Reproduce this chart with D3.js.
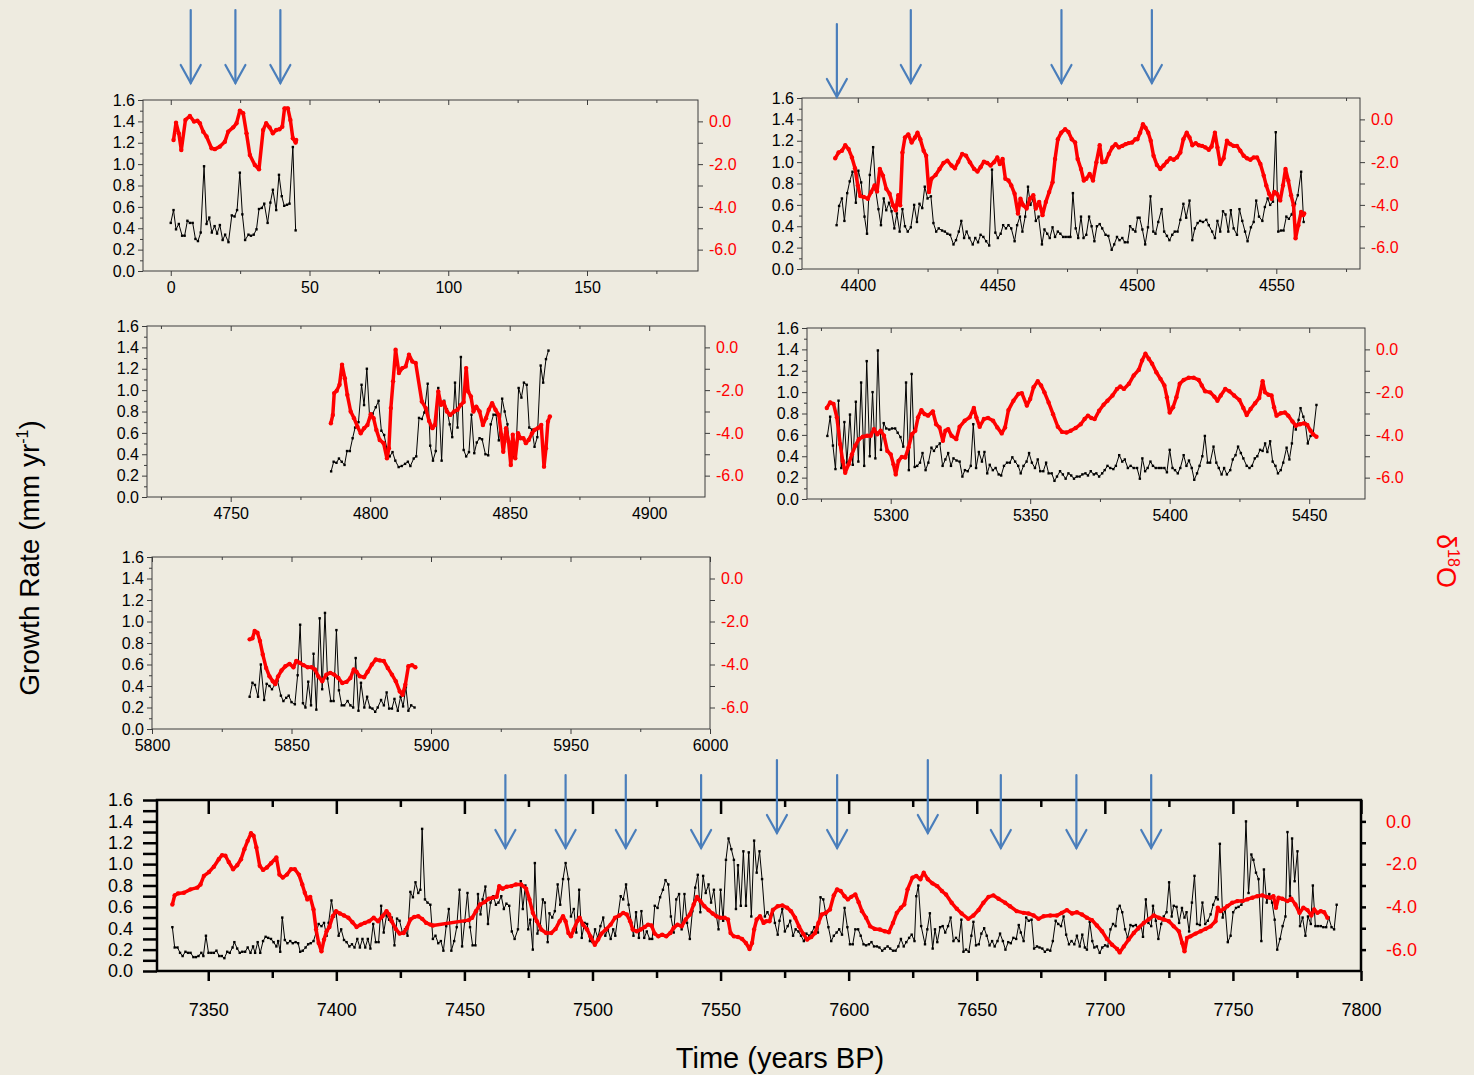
<!DOCTYPE html>
<html>
<head>
<meta charset="utf-8">
<script src="https://cdn.jsdelivr.net/npm/d3@7"></script>
<style>
	body { margin: 0; background: #eeebe0; }
	svg { display: block; }
	text { font-family: "Liberation Sans", Arial, sans-serif; }
</style>
</head>
<body>
<svg id="chart" width="1474" height="1075"></svg>
<script>

// ---- data: [year, growth rate mm/yr] and [year, d18O] per panel ----

let growth1 = [[0,0.45],[1,0.57],[1.9,0.39],[2.9,0.44],[4.1,0.33],[5,0.33],[6,0.47],[6.9,0.45],[7.9,0.45],[8.9,0.30],[9.8,0.28],[10.8,0.36],[12,0.98],[12.9,0.44],[13.9,0.50],[14.8,0.36],[15.8,0.42],[16.7,0.35],[17.7,0.43],[18.7,0.29],[19.6,0.34],[20.8,0.27],[22,0.52],[23,0.51],[23.9,0.57],[24.9,0.92],[25.8,0.53],[26.8,0.29],[28,0.34],[28.9,0.33],[29.9,0.34],[30.9,0.39],[31.8,0.58],[32.8,0.59],[33.7,0.63],[34.9,0.45],[35.9,0.64],[36.8,0.76],[38,0.57],[39,0.90],[40,0.70],[40.9,0.61],[41.9,0.62],[42.8,0.63],[44,1.16],[45,0.38]];

let iso1 = [[1,-0.87],[1.9,-0.06],[2.9,-0.56],[3.8,-1.34],[5.3,0.07],[6.9,0.25],[8.4,-0.01],[9.6,0.03],[10.5,-0.09],[11.7,-0.48],[12.9,-0.71],[14.7,-1.26],[15.9,-1.30],[17.7,-1.18],[19.5,-0.95],[20.7,-0.48],[22.5,-0.28],[23.7,-0.09],[24.9,0.50],[26.1,0.38],[27.3,-0.56],[28.5,-1.57],[30.3,-2.04],[31.8,-2.24],[33.3,-0.40],[34.4,-0.09],[35.6,-0.28],[36.8,-0.56],[38,-0.40],[39.2,-0.37],[40.2,-0.25],[41,0.61],[42.2,0.61],[43.1,0.07],[44,-0.79],[45,-0.99],[45.2,-0.87]];

let growth2 = [[4392.4,0.41],[4393.3,0.59],[4394.3,0.66],[4395.2,0.45],[4396.2,0.71],[4397.1,0.82],[4398.1,0.91],[4399.3,0.62],[4400.2,0.92],[4401.2,0.81],[4402.4,0.49],[4403.3,0.33],[4404.3,0.88],[4405.5,1.14],[4406.4,0.74],[4407.4,0.56],[4408.3,0.41],[4409.3,0.66],[4410.2,0.55],[4411.2,0.62],[4412.1,0.54],[4413.1,0.38],[4414,0.52],[4415,0.35],[4416,0.56],[4416.9,0.40],[4417.9,0.35],[4419,0.39],[4420.2,0.60],[4421.2,0.44],[4422.1,0.61],[4423.1,0.57],[4424,0.77],[4425,0.66],[4426.2,0.68],[4427.1,0.43],[4428.1,0.35],[4429,0.38],[4430.2,0.36],[4431.2,0.35],[4432.1,0.33],[4433.1,0.32],[4434.3,0.23],[4435.2,0.27],[4436.2,0.35],[4437.1,0.45],[4438.1,0.29],[4439,0.35],[4440,0.29],[4441.2,0.23],[4442.1,0.29],[4443.1,0.25],[4444,0.32],[4445,0.30],[4446,0.26],[4447.1,0.22],[4448.1,0.93],[4449.3,0.34],[4450.2,0.29],[4451.2,0.33],[4452.1,0.41],[4453.1,0.38],[4454,0.41],[4455,0.38],[4456.2,0.26],[4457.1,0.41],[4458.1,0.49],[4459,0.35],[4460,0.49],[4461,0.77],[4461.9,0.60],[4462.9,0.65],[4463.8,0.45],[4464.8,0.49],[4466,0.23],[4466.9,0.37],[4467.9,0.33],[4468.8,0.29],[4469.8,0.39],[4470.7,0.30],[4471.7,0.35],[4472.6,0.33],[4473.6,0.30],[4474.5,0.30],[4475.5,0.30],[4476.2,0.30],[4477.1,0.71],[4478.1,0.38],[4479,0.29],[4480,0.49],[4480.9,0.29],[4481.9,0.32],[4482.9,0.49],[4483.8,0.40],[4484.8,0.26],[4485.7,0.40],[4486.7,0.42],[4487.6,0.38],[4488.8,0.32],[4489.8,0.31],[4491,0.18],[4491.9,0.23],[4492.9,0.30],[4493.8,0.27],[4494.8,0.29],[4495.7,0.25],[4496.7,0.25],[4497.6,0.40],[4498.6,0.37],[4499.5,0.35],[4500.3,0.48],[4501,0.48],[4502,0.37],[4503,0.23],[4504,0.39],[4504.9,0.68],[4505.9,0.35],[4506.7,0.33],[4507.7,0.44],[4508.9,0.56],[4509.8,0.35],[4510.8,0.31],[4511.7,0.27],[4512.7,0.32],[4513.6,0.35],[4514.6,0.35],[4515.6,0.46],[4516.7,0.61],[4517.7,0.48],[4518.9,0.64],[4519.9,0.27],[4520.8,0.38],[4521.8,0.43],[4522.7,0.45],[4523.7,0.44],[4524.9,0.46],[4525.8,0.41],[4527,0.35],[4528,0.29],[4528.9,0.45],[4529.9,0.35],[4530.9,0.54],[4531.8,0.51],[4532.8,0.35],[4533.7,0.55],[4534.7,0.38],[4535.9,0.32],[4536.8,0.56],[4537.8,0.45],[4538.8,0.35],[4539.7,0.26],[4540.9,0.39],[4541.9,0.44],[4542.8,0.64],[4543.8,0.49],[4545,0.45],[4545.9,0.58],[4546.9,0.66],[4547.8,0.60],[4548.8,0.63],[4549.8,1.28],[4550.7,0.35],[4551.7,0.36],[4552.6,0.36],[4553.6,0.49],[4554.5,0.47],[4555.5,0.51],[4556.7,0.61],[4557.7,0.69],[4558.9,0.91],[4559.8,0.44]];

let iso2 = [[4391.9,-1.82],[4393.1,-1.55],[4394.3,-1.47],[4395.5,-1.21],[4396.7,-1.39],[4397.9,-1.78],[4399,-2.29],[4400,-3.09],[4400.9,-3.59],[4402.1,-3.63],[4403.6,-3.71],[4404.8,-3.40],[4406,-3.09],[4406.9,-3.37],[4407.9,-2.32],[4409,-2.63],[4410.2,-3.25],[4411.4,-3.48],[4412.6,-4.02],[4413.6,-4.25],[4414.5,-3.55],[4415.2,-4.02],[4416,-1.55],[4416.9,-0.85],[4418.1,-0.70],[4419.3,-1.08],[4420.5,-0.85],[4421.4,-0.62],[4422.4,-0.93],[4423.6,-1.47],[4424.5,-1.70],[4425.5,-3.40],[4426.4,-2.78],[4427.9,-2.60],[4429.3,-2.32],[4430.7,-2.04],[4432.1,-1.93],[4433.6,-2.16],[4434.8,-2.29],[4436,-1.98],[4437.4,-1.62],[4438.8,-1.70],[4440.2,-2.01],[4441.7,-2.32],[4442.9,-2.44],[4444,-2.24],[4445.2,-1.98],[4446.4,-2.04],[4447.6,-2.16],[4448.8,-2.01],[4450,-1.78],[4450.9,-2.09],[4451.9,-1.85],[4452.9,-2.78],[4454,-2.86],[4455,-3.09],[4456.2,-3.48],[4457.4,-4.40],[4458.3,-3.71],[4459.3,-4.02],[4460.5,-4.17],[4461.7,-3.71],[4462.9,-3.55],[4463.8,-4.17],[4465,-3.86],[4466.2,-4.48],[4467.4,-3.86],[4468.6,-3.40],[4469.8,-2.94],[4470.7,-1.85],[4471.7,-0.93],[4472.9,-0.62],[4474.3,-0.46],[4475.5,-0.59],[4476.7,-0.93],[4477.9,-1.08],[4478.8,-1.85],[4480,-2.32],[4481,-2.86],[4481.9,-2.78],[4483.1,-2.55],[4484.3,-2.86],[4485.5,-2.01],[4486.7,-1.21],[4487.6,-2.01],[4488.8,-1.98],[4490,-1.62],[4491.2,-1.31],[4492.4,-1.16],[4493.6,-1.31],[4494.8,-1.24],[4496,-1.16],[4497.1,-1.11],[4498.3,-1.08],[4499.5,-0.93],[4500.2,-0.93],[4501.2,-0.62],[4502.2,-0.23],[4503.1,-0.39],[4504.1,-0.62],[4505,-1.00],[4506,-1.70],[4507.2,-2.13],[4508.4,-2.32],[4509.6,-2.16],[4510.8,-1.98],[4512,-1.82],[4513.2,-1.89],[4514.4,-1.78],[4515.6,-1.55],[4516.7,-0.93],[4517.9,-0.62],[4518.9,-0.85],[4519.9,-1.21],[4521.1,-1.11],[4522.2,-1.21],[4523.4,-1.24],[4524.6,-1.31],[4525.8,-1.42],[4526.8,-1.27],[4528,-0.62],[4528.9,-1.31],[4529.9,-2.09],[4531.1,-1.82],[4532.3,-1.00],[4533.5,-1.16],[4534.7,-1.24],[4535.9,-1.24],[4537.1,-1.47],[4538.3,-1.70],[4539.5,-1.82],[4540.7,-1.89],[4541.9,-1.78],[4543.1,-1.78],[4544.3,-2.09],[4545.5,-2.63],[4546.4,-3.09],[4547.4,-3.48],[4548.3,-3.71],[4549.3,-3.40],[4550.2,-3.48],[4551.4,-3.79],[4552.4,-3.09],[4553.3,-2.32],[4554.3,-2.86],[4555.3,-3.55],[4556.2,-4.02],[4556.9,-5.56],[4557.9,-4.95],[4558.9,-4.33],[4559.6,-4.48],[4560,-4.40]];

let growth3 = [[4786,0.24],[4786.9,0.33],[4787.9,0.32],[4788.8,0.36],[4789.8,0.33],[4790.8,0.30],[4791.7,0.43],[4792.7,0.43],[4793.7,0.55],[4794.6,0.65],[4795.8,0.70],[4796.9,1.05],[4797.8,0.86],[4798.8,1.20],[4799.8,0.74],[4800.9,0.78],[4802,0.84],[4803,0.90],[4804,0.62],[4805,0.58],[4806,0.45],[4807,0.38],[4808,0.42],[4809,0.34],[4810.2,0.28],[4811.3,0.29],[4812.5,0.31],[4813.5,0.33],[4814.4,0.29],[4815.6,0.36],[4816.5,0.38],[4817.5,0.74],[4818.5,0.73],[4819.4,0.79],[4820.6,1.06],[4821.5,0.48],[4822.5,0.34],[4823.5,0.43],[4824.4,1.02],[4825.6,0.34],[4826.5,0.90],[4827.5,0.82],[4828.5,0.68],[4829.4,0.56],[4830.4,1.07],[4831.3,0.65],[4832.5,1.31],[4833.5,0.44],[4834.4,0.38],[4835.4,0.42],[4836.3,0.77],[4837.3,0.41],[4838.2,0.51],[4839.2,0.55],[4840.1,0.54],[4841.3,0.40],[4842.3,0.39],[4843.2,0.68],[4844.2,0.77],[4845.1,0.77],[4846.1,0.53],[4847.3,0.92],[4848.2,0.80],[4849.2,0.68],[4850.1,0.43],[4851.3,0.37],[4852.3,0.46],[4853.2,1.02],[4854.2,0.93],[4855.1,1.07],[4856.1,1.05],[4857,0.65],[4858,0.63],[4858.9,0.47],[4859.9,0.56],[4861.1,1.23],[4862,1.07],[4863,1.29],[4863.9,1.37]];

let iso3 = [[4785.9,-3.55],[4786.6,-3.16],[4787.1,-2.14],[4788,-2.03],[4789,-1.75],[4789.9,-0.81],[4790.9,-1.44],[4791.8,-2.22],[4793,-3.00],[4794.2,-3.31],[4795.4,-3.70],[4796.6,-4.02],[4797.8,-3.78],[4799,-3.63],[4800.2,-3.13],[4801.2,-3.31],[4802.2,-3.86],[4803.4,-4.33],[4804.8,-4.48],[4806,-5.19],[4806.7,-4.72],[4807.4,-2.84],[4808.2,-1.59],[4809.1,-0.11],[4810.3,-1.20],[4811.5,-0.97],[4812.7,-0.89],[4813.9,-0.34],[4815.1,-0.66],[4816.3,-0.73],[4818.5,-2.53],[4819.9,-2.84],[4821.1,-3.44],[4822.3,-3.78],[4823.2,-3.63],[4824.4,-2.06],[4825.4,-2.69],[4826.3,-2.56],[4827.5,-3.00],[4828.7,-3.16],[4830.1,-3.00],[4831.3,-2.92],[4832.5,-2.69],[4833.5,-2.56],[4834.4,-0.97],[4835.1,-2.06],[4836.1,-2.30],[4837,-3.00],[4838,-2.77],[4839.2,-3.00],[4840.4,-3.63],[4841.5,-3.31],[4842.5,-2.92],[4843.7,-2.61],[4844.9,-2.92],[4846.1,-3.16],[4847,-4.09],[4847.7,-4.88],[4848.7,-3.78],[4849.6,-4.41],[4850.4,-5.50],[4851.1,-4.09],[4852,-5.19],[4853,-4.02],[4853.9,-4.25],[4854.9,-4.25],[4855.8,-4.48],[4856.8,-4.33],[4858,-4.02],[4858.9,-3.86],[4860.1,-3.78],[4861.3,-3.63],[4862.3,-5.58],[4863,-4.72],[4863.7,-3.47],[4864.4,-3.23]];

let growth4 = [[5277.3,0.59],[5278.3,0.77],[5279.3,0.50],[5280.2,0.28],[5281.3,0.92],[5282.3,0.29],[5283.4,0.72],[5284.3,0.34],[5285.4,0.79],[5286.4,0.32],[5287.5,0.91],[5288.4,0.35],[5289.4,1.09],[5290.5,0.31],[5291.4,1.29],[5292.5,0.40],[5293.5,1.00],[5294.5,0.38],[5295.4,1.39],[5296.5,0.46],[5297.5,0.71],[5298.4,0.66],[5299.5,0.65],[5300.5,0.66],[5301.6,0.66],[5302.5,0.62],[5303.5,0.58],[5304.5,0.49],[5305.5,1.09],[5306.5,0.27],[5307.5,1.17],[5308.6,0.30],[5309.5,0.31],[5310.5,0.34],[5311.4,0.43],[5312.5,0.27],[5313.5,0.34],[5314.6,0.48],[5315.5,0.45],[5316.5,0.49],[5317.6,0.52],[5318.6,0.31],[5319.6,0.37],[5320.6,0.43],[5321.6,0.31],[5322.5,0.38],[5323.6,0.36],[5324.7,0.35],[5325.7,0.21],[5326.6,0.27],[5327.6,0.26],[5328.7,0.31],[5329.6,0.70],[5330.6,0.29],[5331.6,0.44],[5332.7,0.35],[5333.6,0.44],[5334.6,0.24],[5335.5,0.32],[5336.6,0.27],[5337.6,0.29],[5338.7,0.23],[5339.6,0.22],[5340.6,0.31],[5341.7,0.34],[5342.7,0.34],[5343.6,0.39],[5344.6,0.35],[5345.7,0.31],[5346.6,0.24],[5347.6,0.31],[5348.7,0.35],[5349.6,0.43],[5350.6,0.34],[5351.7,0.29],[5352.7,0.37],[5353.6,0.26],[5354.7,0.26],[5355.7,0.34],[5356.6,0.24],[5357.7,0.24],[5358.7,0.17],[5359.6,0.21],[5360.7,0.26],[5361.7,0.23],[5362.7,0.19],[5363.7,0.24],[5364.7,0.22],[5365.7,0.19],[5366.7,0.21],[5367.7,0.21],[5368.7,0.23],[5369.8,0.24],[5370.7,0.22],[5371.7,0.26],[5372.8,0.23],[5373.7,0.24],[5374.7,0.21],[5375.8,0.24],[5376.7,0.27],[5377.7,0.31],[5378.7,0.29],[5379.8,0.28],[5380.7,0.31],[5381.9,0.41],[5383,0.35],[5383.9,0.37],[5385,0.29],[5386,0.31],[5387.1,0.29],[5388.3,0.29],[5389.3,0.19],[5390.2,0.38],[5391.2,0.26],[5392.1,0.29],[5393.1,0.35],[5394,0.31],[5395,0.29],[5396.1,0.29],[5397,0.29],[5398.1,0.29],[5399,0.25],[5400,0.46],[5401,0.29],[5401.9,0.27],[5402.9,0.24],[5403.8,0.29],[5405,0.41],[5406,0.31],[5406.9,0.36],[5407.9,0.29],[5408.8,0.18],[5409.8,0.24],[5410.7,0.31],[5411.7,0.40],[5412.6,0.59],[5413.6,0.34],[5414.5,0.34],[5415.7,0.49],[5416.7,0.34],[5417.6,0.29],[5418.6,0.23],[5419.5,0.29],[5420.5,0.23],[5421.7,0.27],[5422.6,0.37],[5423.6,0.41],[5424.5,0.49],[5425.5,0.43],[5426.4,0.38],[5427.6,0.31],[5428.6,0.29],[5429.5,0.31],[5430.5,0.38],[5431.4,0.40],[5432.4,0.46],[5433.3,0.45],[5434.2,0.52],[5435,0.44],[5436,0.54],[5436.9,0.35],[5437.9,0.31],[5438.8,0.24],[5439.8,0.27],[5440.7,0.34],[5441.9,0.48],[5442.9,0.37],[5443.8,0.52],[5444.5,0.71],[5445.2,0.65],[5446.2,0.74],[5446.9,0.85],[5447.9,0.77],[5448.6,0.71],[5449.5,0.52],[5450.5,0.59],[5451.4,0.60],[5452.6,0.88]];

let iso4 = [[5277.1,-2.74],[5278.3,-2.48],[5279.5,-2.55],[5280.7,-3.18],[5281.9,-4.44],[5282.8,-5.22],[5283.7,-5.77],[5284.9,-5.38],[5286.1,-4.91],[5287.3,-4.51],[5288.6,-4.20],[5290,-4.09],[5291.6,-4.04],[5292.8,-4.04],[5294,-3.73],[5295.2,-3.97],[5296.4,-3.81],[5297.6,-4.04],[5298.8,-4.75],[5300,-4.91],[5301,-5.38],[5301.8,-5.85],[5302.8,-5.22],[5304,-5.03],[5305.2,-5.06],[5306.4,-4.59],[5307.6,-3.97],[5308.8,-3.81],[5309.8,-3.18],[5311,-2.84],[5312.2,-3.03],[5313.4,-3.10],[5315.1,-2.90],[5316.3,-3.50],[5317.5,-3.65],[5318.7,-4.28],[5319.6,-3.81],[5320.6,-3.73],[5321.8,-4.04],[5323.5,-4.20],[5324.7,-3.62],[5326.5,-3.34],[5328.3,-3.18],[5329.8,-2.74],[5330.7,-3.18],[5331.9,-3.62],[5333.4,-3.26],[5334.9,-3.21],[5336.7,-3.34],[5338.2,-3.65],[5339.8,-3.93],[5341,-3.65],[5342.2,-2.84],[5344,-2.40],[5345.8,-2.08],[5347,-2.05],[5348.8,-2.63],[5350,-2.32],[5351.2,-1.77],[5352.7,-1.49],[5353.9,-1.69],[5355.1,-2.01],[5356.6,-2.48],[5358.2,-3.03],[5359.9,-3.62],[5361.4,-3.86],[5363,-3.89],[5364.5,-3.81],[5366.3,-3.68],[5368.1,-3.50],[5369.5,-3.26],[5370.7,-3.10],[5371.9,-3.21],[5373.1,-3.26],[5374.7,-2.87],[5376.3,-2.59],[5377.7,-2.40],[5379.5,-2.16],[5381.1,-1.85],[5382.3,-1.74],[5383.6,-1.85],[5385.4,-1.61],[5387.1,-1.22],[5388.9,-0.96],[5390.1,-0.52],[5391.3,-0.20],[5392.5,-0.44],[5393.7,-0.67],[5395.2,-1.07],[5396.7,-1.38],[5398.1,-1.69],[5399,-2.24],[5400,-2.95],[5401.2,-2.71],[5402.4,-2.24],[5403.6,-1.61],[5405,-1.43],[5406.8,-1.33],[5408.6,-1.33],[5410.4,-1.43],[5411.5,-1.69],[5412.7,-1.96],[5414.5,-2.01],[5416,-2.21],[5417.1,-2.40],[5418.3,-2.16],[5419.9,-1.85],[5421.4,-1.96],[5423.1,-2.16],[5425,-2.37],[5426.4,-2.74],[5427.6,-3.07],[5429,-2.79],[5430.6,-2.52],[5432.1,-2.27],[5433.3,-1.49],[5434.2,-2.01],[5435.4,-2.12],[5436.5,-2.16],[5437.4,-2.71],[5438.3,-3.10],[5439.8,-2.99],[5441.3,-2.95],[5442.5,-3.10],[5444,-3.37],[5445.2,-3.57],[5446.7,-3.50],[5448.1,-3.46],[5449.3,-3.53],[5450.5,-3.81],[5451.4,-3.97],[5452.6,-4.09]];

let growth5 = [[5835,0.30],[5836,0.43],[5836.9,0.41],[5838,0.30],[5839,0.60],[5840.2,0.27],[5841.1,0.42],[5842.1,0.40],[5843,0.37],[5844,0.41],[5845,0.45],[5846.2,0.31],[5847.1,0.26],[5848.1,0.29],[5849,0.31],[5850,0.25],[5851.2,0.23],[5852.2,0.50],[5853.1,0.97],[5854.1,0.24],[5855,0.20],[5856,0.44],[5857,0.22],[5857.9,0.70],[5858.9,0.18],[5860.1,1.03],[5861,0.37],[5862,1.08],[5862.9,0.47],[5864.1,0.26],[5865.1,0.26],[5866.1,0.92],[5867,0.36],[5868,0.22],[5868.9,0.22],[5870.1,0.26],[5871.1,0.22],[5872.1,0.20],[5873,0.66],[5874,0.17],[5874.9,0.43],[5876.1,0.20],[5877.1,0.30],[5878.1,0.20],[5879,0.19],[5880,0.16],[5880.9,0.20],[5882.1,0.27],[5883.1,0.22],[5884.1,0.34],[5885,0.19],[5886,0.19],[5886.9,0.28],[5888.1,0.17],[5889.1,0.30],[5890,0.21],[5891,0.39],[5891.9,0.17],[5892.9,0.22],[5894.1,0.20]];

let iso5 = [[5835,-2.83],[5836,-2.78],[5836.8,-2.44],[5837.8,-2.52],[5838.7,-2.91],[5839.7,-3.53],[5840.9,-4.16],[5842.1,-4.55],[5843.3,-4.78],[5844.2,-4.91],[5845.2,-4.55],[5846.4,-4.28],[5847.8,-4.08],[5849.3,-3.97],[5850.7,-4.13],[5851.7,-3.84],[5852.9,-3.92],[5854.3,-4.03],[5855.8,-4.13],[5857.2,-4.13],[5858.4,-4.23],[5859.6,-4.55],[5861,-4.78],[5862.5,-4.47],[5863.9,-4.39],[5865.3,-4.47],[5866.8,-4.63],[5868.2,-4.86],[5869.7,-4.81],[5871.1,-4.63],[5872.3,-4.23],[5873.3,-4.34],[5874.5,-4.55],[5876,-4.59],[5877.3,-4.34],[5878.8,-4.00],[5880.2,-3.77],[5881.7,-3.81],[5883.1,-3.84],[5884.5,-4.16],[5886,-4.47],[5887.4,-4.78],[5888.8,-5.25],[5889.8,-5.41],[5890.8,-4.94],[5891.9,-4.08],[5893.2,-4.03],[5894.4,-4.13]];

let growth6 = [[7336,0.41],[7336.9,0.22],[7338,0.22],[7339,0.17],[7340,0.14],[7341.1,0.18],[7342.1,0.17],[7343.1,0.17],[7344.2,0.13],[7345.2,0.13],[7346.2,0.14],[7347.3,0.17],[7348.1,0.14],[7349.1,0.33],[7350.1,0.17],[7351.2,0.17],[7352.2,0.17],[7353.2,0.19],[7354.3,0.14],[7355.3,0.14],[7356.3,0.12],[7357.4,0.18],[7358.4,0.17],[7359.5,0.22],[7360.2,0.27],[7361.3,0.21],[7362.3,0.17],[7363.3,0.18],[7364.4,0.18],[7365.4,0.22],[7366.5,0.17],[7367.5,0.23],[7368.3,0.17],[7369.3,0.27],[7370.3,0.17],[7371.4,0.28],[7372.4,0.32],[7373.4,0.31],[7374.5,0.30],[7375.5,0.27],[7376.6,0.23],[7377.3,0.28],[7378.1,0.18],[7378.9,0.50],[7379.9,0.29],[7380.9,0.26],[7382,0.28],[7383,0.26],[7384.1,0.27],[7385.1,0.26],[7385.9,0.18],[7386.9,0.19],[7388,0.22],[7389,0.25],[7390,0.26],[7391.1,0.28],[7392.1,0.36],[7393.1,0.44],[7394.2,0.42],[7395.2,0.45],[7396.2,0.33],[7397,0.45],[7398.1,0.66],[7399.1,0.51],[7399.9,0.55],[7400.9,0.33],[7401.9,0.39],[7403,0.29],[7404,0.27],[7405.1,0.23],[7406.1,0.25],[7407.1,0.22],[7408.2,0.30],[7409.2,0.22],[7410.2,0.30],[7411.3,0.22],[7412.3,0.30],[7413.3,0.21],[7414.4,0.44],[7415.4,0.27],[7416.5,0.27],[7417.5,0.61],[7418.5,0.36],[7419.6,0.52],[7420.6,0.48],[7421.6,0.50],[7422.7,0.24],[7423.7,0.49],[7424.7,0.47],[7425.8,0.36],[7426.8,0.39],[7427.8,0.33],[7428.9,0.74],[7429.9,0.69],[7430.9,0.83],[7432,0.73],[7432.8,0.76],[7433.5,1.33],[7434.6,0.67],[7435.6,0.64],[7436.7,0.62],[7437.7,0.30],[7438.7,0.33],[7439.8,0.26],[7440.8,0.28],[7441.8,0.19],[7442.9,0.42],[7443.9,0.58],[7444.9,0.19],[7446,0.28],[7447,0.41],[7448.1,0.76],[7449.1,0.23],[7450.1,0.46],[7451.2,0.73],[7452.2,0.41],[7453.2,0.24],[7454.3,0.24],[7455.3,0.72],[7456.3,0.53],[7457.1,0.67],[7458.2,0.79],[7459.2,0.44],[7460.2,0.64],[7461.3,0.70],[7462.3,0.62],[7463.3,0.64],[7464.4,0.70],[7465.4,0.58],[7466.4,0.63],[7467.5,0.61],[7468.5,0.37],[7469.6,0.30],[7470.9,0.39],[7472,0.84],[7472.8,0.58],[7473.8,0.80],[7474.9,0.39],[7475.7,0.48],[7476.7,0.20],[7477.5,1.01],[7478.5,0.35],[7479.6,0.42],[7480.6,0.67],[7481.4,0.64],[7482.5,0.27],[7483.2,0.54],[7484.3,0.50],[7485.3,0.56],[7486.4,0.81],[7487.4,0.62],[7488.5,0.86],[7489.5,1.01],[7490.6,0.86],[7491.6,0.51],[7492.7,0.58],[7493.7,0.36],[7494.8,0.76],[7495.8,0.31],[7496.9,0.45],[7497.9,0.44],[7499,0.28],[7500,0.27],[7501,0.39],[7502.1,0.31],[7503.1,0.42],[7504.2,0.50],[7505,0.33],[7506,0.39],[7507.1,0.30],[7508.1,0.39],[7508.9,0.33],[7509.9,0.51],[7511,0.70],[7512,0.67],[7513.1,0.81],[7514.1,0.62],[7515.2,0.45],[7516,0.33],[7517,0.55],[7518.1,0.31],[7519.1,0.56],[7520.2,0.31],[7521.2,0.37],[7522.3,0.30],[7523.3,0.30],[7524.3,0.61],[7525.4,0.59],[7526.4,0.69],[7527.5,0.76],[7528.5,0.85],[7529.6,0.81],[7530.6,0.51],[7531.7,0.36],[7532.7,0.67],[7533.8,0.72],[7534.8,0.39],[7535.9,0.72],[7536.9,0.45],[7538,0.30],[7539,0.56],[7540.1,0.78],[7541.1,0.90],[7542.1,0.55],[7543.2,0.89],[7544.2,0.73],[7545.3,0.81],[7546.3,0.64],[7547.4,0.76],[7548.4,0.51],[7549.2,0.39],[7550,0.76],[7551,0.47],[7552.1,1.04],[7553.1,1.24],[7554.2,1.14],[7555.2,1.04],[7556,0.58],[7556.8,0.99],[7557.9,0.61],[7558.9,1.12],[7559.9,0.61],[7561,1.11],[7562,0.51],[7563.1,1.22],[7564.1,0.92],[7565.2,1.12],[7566.2,0.86],[7567.3,0.51],[7568.3,0.55],[7569.4,0.50],[7570.4,0.58],[7571.2,0.45],[7572.3,0.34],[7573,0.47],[7574.1,0.58],[7575.1,0.37],[7576.2,0.42],[7577.2,0.47],[7578.3,0.33],[7579.3,0.39],[7580.4,0.37],[7581.4,0.33],[7582.5,0.28],[7583.5,0.35],[7584.6,0.33],[7585.6,0.36],[7586.6,0.41],[7588,0.36],[7589,0.69],[7590.1,0.67],[7591.1,0.53],[7592.1,0.41],[7593.2,0.28],[7594.2,0.33],[7595.3,0.36],[7596.3,0.39],[7597.4,0.34],[7598.4,0.59],[7599.5,0.41],[7600.5,0.25],[7601.6,0.25],[7602.6,0.39],[7603.7,0.39],[7604.7,0.33],[7605.8,0.25],[7606.8,0.24],[7607.9,0.25],[7608.9,0.27],[7609.9,0.23],[7611,0.23],[7612,0.22],[7613.1,0.19],[7614.1,0.21],[7615.2,0.23],[7616.2,0.21],[7617.3,0.19],[7618.3,0.19],[7619.4,0.23],[7620.4,0.30],[7621.5,0.23],[7622.5,0.27],[7623.6,0.31],[7624.6,0.34],[7625.7,0.28],[7626.4,0.70],[7627.2,0.80],[7628.3,0.42],[7629.8,0.25],[7630.7,0.39],[7631.7,0.54],[7632.8,0.21],[7633.7,0.39],[7634.6,0.27],[7635.7,0.41],[7636.7,0.42],[7637.7,0.36],[7638.8,0.42],[7639.8,0.50],[7640.9,0.28],[7641.9,0.31],[7643,0.28],[7644,0.48],[7644.8,0.18],[7645.8,0.20],[7646.9,0.18],[7647.9,0.33],[7648.7,0.46],[7649.7,0.24],[7650.8,0.25],[7651.8,0.35],[7652.9,0.40],[7653.9,0.33],[7655,0.24],[7656,0.28],[7657,0.23],[7658.1,0.28],[7659.1,0.35],[7660.2,0.28],[7661.2,0.20],[7662.3,0.27],[7663.3,0.26],[7664.3,0.31],[7665.4,0.30],[7666.4,0.43],[7667.2,0.36],[7668.3,0.28],[7669.3,0.50],[7670.3,0.47],[7671.4,0.48],[7672.4,0.21],[7673.5,0.23],[7674.5,0.22],[7675.6,0.21],[7676.6,0.18],[7677.6,0.20],[7678.7,0.19],[7679.7,0.28],[7680.8,0.47],[7681.8,0.44],[7682.9,0.42],[7683.9,0.51],[7684.9,0.34],[7686,0.25],[7687,0.28],[7688.1,0.25],[7689.1,0.33],[7690.2,0.23],[7691.2,0.34],[7692.2,0.22],[7693,0.20],[7694.1,0.46],[7695.1,0.28],[7695.9,0.22],[7696.9,0.23],[7698,0.17],[7699,0.22],[7700.1,0.24],[7701.1,0.23],[7702.2,0.39],[7703.2,0.44],[7704.2,0.42],[7705,0.58],[7705.8,0.61],[7706.8,0.55],[7707.9,0.39],[7708.9,0.31],[7710,0.43],[7711,0.42],[7712.1,0.43],[7713.1,0.39],[7714.1,0.43],[7714.9,0.32],[7716,0.67],[7717,0.45],[7718.1,0.42],[7718.8,0.61],[7719.9,0.47],[7720.9,0.30],[7722,0.44],[7723,0.51],[7724.1,0.55],[7725.1,0.83],[7726.1,0.51],[7726.9,0.61],[7728,0.60],[7729,0.45],[7730.1,0.59],[7731.1,0.50],[7731.9,0.55],[7732.9,0.37],[7734,0.64],[7735,0.89],[7736,0.44],[7737.1,0.43],[7738.1,0.64],[7739.2,0.44],[7740.2,0.47],[7741.3,0.53],[7742.3,0.62],[7743.4,0.69],[7744.1,0.67],[7744.9,1.19],[7746,0.50],[7747,0.58],[7748,0.27],[7749.1,0.33],[7750.1,0.55],[7751.2,0.59],[7752.2,0.60],[7753.3,0.62],[7754,0.65],[7755.1,1.40],[7756.1,0.73],[7757.2,1.09],[7758,1.04],[7759,0.92],[7760,0.86],[7761.1,0.28],[7762.1,0.95],[7763.2,0.64],[7764.2,0.72],[7765.3,0.64],[7766.3,0.48],[7767.3,0.20],[7768.4,0.30],[7769.4,0.42],[7770.5,0.51],[7771.3,1.30],[7772.3,0.70],[7773.1,1.24],[7774.1,0.84],[7775.2,1.12],[7776.2,0.42],[7777.2,0.50],[7778.3,0.33],[7779.3,0.51],[7780.4,0.44],[7781.2,0.80],[7782.2,0.42],[7783.2,0.42],[7784.3,0.42],[7785.3,0.41],[7786.4,0.41],[7787.4,0.50],[7788.5,0.41],[7789.5,0.39],[7790.5,0.62]];

let iso6 = [[7336,-3.89],[7336.9,-3.46],[7338.2,-3.37],[7340.5,-3.34],[7343.1,-3.18],[7345.7,-3.10],[7347,-2.95],[7348.3,-2.55],[7350.3,-2.37],[7352.2,-2.12],[7354.1,-1.77],[7355.4,-1.58],[7356.7,-1.61],[7358,-1.90],[7359.7,-2.24],[7361.3,-2.05],[7362.8,-1.77],[7364.1,-1.30],[7365.4,-0.91],[7366.7,-0.55],[7367.7,-0.67],[7368.8,-1.22],[7370.1,-2.08],[7371.4,-2.27],[7372.9,-2.16],[7374.5,-1.96],[7376.6,-1.69],[7377.8,-2.49],[7379.1,-2.63],[7380.7,-2.49],[7382.3,-2.24],[7383.8,-2.24],[7385.4,-2.49],[7386.7,-2.95],[7387.7,-3.34],[7388.7,-3.65],[7389.8,-3.53],[7391.1,-4.12],[7392.1,-5.06],[7393.1,-5.69],[7394.2,-6.08],[7395.2,-5.53],[7396.2,-5.14],[7397.3,-4.94],[7398.6,-4.44],[7399.9,-4.20],[7401.4,-4.31],[7403,-4.40],[7404.7,-4.51],[7406.3,-4.72],[7407.9,-4.94],[7409.5,-4.83],[7411.1,-4.75],[7412.8,-4.67],[7414.6,-4.51],[7416.3,-4.67],[7418,-4.44],[7419.6,-4.20],[7420.6,-4.36],[7421.6,-4.67],[7423.2,-5.03],[7424.7,-5.25],[7426.3,-5.22],[7427.6,-4.98],[7428.9,-4.59],[7430.4,-4.47],[7432,-4.44],[7433.5,-4.56],[7435.1,-4.75],[7436.7,-4.83],[7437.7,-4.87],[7451.7,-4.62],[7453,-4.51],[7454.5,-4.20],[7456.1,-3.89],[7457.8,-3.78],[7459.5,-3.62],[7461,-3.57],[7462.6,-3.53],[7463.6,-3.03],[7464.9,-3.15],[7466.5,-3.06],[7468.3,-3.03],[7470.1,-2.95],[7472.1,-2.95],[7474.1,-3.15],[7475.4,-3.65],[7476.7,-4.28],[7478.3,-4.67],[7480,-5.06],[7481.9,-5.22],[7483.9,-5.22],[7485.6,-5.03],[7487.2,-4.67],[7488.5,-4.44],[7489.5,-4.67],[7490.6,-5.22],[7491.6,-5.38],[7492.7,-5.06],[7494,-4.67],[7495,-4.51],[7496.3,-4.83],[7497.9,-5.06],[7499.2,-5.38],[7500.9,-5.77],[7502.2,-5.53],[7503.5,-5.25],[7505.2,-5.06],[7507.1,-4.83],[7508.8,-4.51],[7510.5,-4.40],[7512,-4.28],[7513.4,-4.36],[7514.7,-4.67],[7515.7,-5.06],[7517.3,-5.14],[7518.8,-5.06],[7520.4,-4.94],[7521.7,-4.83],[7523,-4.87],[7524.3,-5.25],[7525.7,-5.38],[7527.2,-5.30],[7528.8,-5.38],[7530.4,-5.22],[7531.7,-4.98],[7533.2,-4.83],[7534.8,-4.91],[7536.4,-4.59],[7538,-4.36],[7539.5,-3.89],[7540.8,-3.53],[7542.1,-3.73],[7543.7,-3.97],[7545.3,-4.15],[7546.9,-4.31],[7548.4,-4.44],[7550,-4.51],[7551.6,-4.51],[7552.9,-4.59],[7553.9,-5.22],[7555.2,-5.38],[7556.8,-5.41],[7558.4,-5.50],[7559.9,-5.69],[7561.3,-5.97],[7562.3,-5.69],[7563.1,-5.06],[7564.1,-4.59],[7565.4,-4.44],[7566.8,-4.75],[7567.8,-4.67],[7569.1,-4.67],[7570.4,-4.15],[7572.3,-3.97],[7574.1,-3.93],[7576,-4.04],[7577.5,-4.20],[7579.1,-4.51],[7580.6,-4.91],[7582.2,-5.25],[7583.8,-5.53],[7585.4,-5.41],[7586.9,-5.22],[7588.2,-4.75],[7589.5,-4.36],[7591.1,-4.28],[7592.7,-4.12],[7594.2,-3.46],[7595.5,-3.18],[7596.9,-3.26],[7598.4,-3.50],[7599.7,-3.65],[7601,-3.53],[7602.6,-3.42],[7603.9,-3.78],[7605.2,-4.20],[7606.8,-4.51],[7608.4,-4.91],[7610.2,-5.03],[7612.2,-5.06],[7614.1,-5.14],[7615.7,-5.19],[7617.3,-4.75],[7618.8,-4.28],[7620.4,-4.04],[7621.7,-3.89],[7623,-3.18],[7624.9,-2.63],[7626.4,-2.55],[7628,-2.71],[7629.3,-2.40],[7630.9,-2.71],[7632.7,-2.90],[7634.6,-3.03],[7636.4,-3.26],[7638,-3.42],[7640.2,-3.81],[7642.2,-4.09],[7644.1,-4.31],[7646.7,-4.56],[7648.7,-4.40],[7650.7,-4.15],[7652.6,-3.81],[7654.6,-3.53],[7656.5,-3.46],[7658.5,-3.62],[7661.1,-3.81],[7663,-3.97],[7665.6,-4.20],[7668.3,-4.28],[7670.2,-4.31],[7672.2,-4.40],[7674.1,-4.56],[7676.1,-4.44],[7678.7,-4.40],[7681.3,-4.40],[7683.2,-4.28],[7685.2,-4.15],[7687.2,-4.31],[7689.1,-4.25],[7691.1,-4.36],[7693,-4.51],[7695,-4.62],[7696.9,-4.87],[7698.9,-5.14],[7700.8,-5.50],[7702.8,-5.77],[7704.8,-5.97],[7705.8,-6.13],[7707.4,-5.85],[7709.3,-5.53],[7711.3,-5.22],[7713.2,-4.98],[7715.2,-4.75],[7717.1,-4.59],[7719.1,-4.40],[7721.1,-4.51],[7723,-4.59],[7725,-4.67],[7726.9,-4.91],[7728.9,-5.14],[7730.2,-5.69],[7731.1,-6.08],[7732.1,-5.45],[7733.4,-5.38],[7735.4,-5.25],[7737.4,-5.14],[7739.3,-5.03],[7741.3,-4.91],[7743.2,-4.67],[7744.1,-4.04],[7745.2,-4.20],[7746.5,-4.09],[7747.8,-3.97],[7749.7,-3.81],[7751.7,-3.73],[7753.6,-3.73],[7755.6,-3.65],[7757.6,-3.57],[7759.5,-3.50],[7761.5,-3.46],[7763.2,-3.53],[7764.5,-3.57],[7765.8,-3.50],[7766.8,-4.04],[7767.8,-3.57],[7769.3,-3.62],[7771.3,-3.73],[7772.8,-3.62],[7774.4,-3.89],[7776,-4.28],[7777.5,-4.04],[7779.1,-4.15],[7780.6,-4.40],[7781.7,-4.12],[7783,-4.28],[7784.3,-4.20],[7785.6,-4.25],[7786.9,-4.51]];

// years marked with arrows
let arrows1 = [7.2, 23.3, 39.5];
let arrows2 = [4392.5, 4419, 4473, 4505.4];
let arrows6 = [7466, 7489.5, 7513, 7542.4, 7572, 7595.5, 7630.9, 7659.4, 7688.9, 7718.1];

// axis ticks
let growthTicks = [0, 0.2, 0.4, 0.6, 0.8, 1.0, 1.2, 1.4, 1.6];
let isoTicks = [0, -2, -4, -6];

// ---- layout ----
let panels = [
	{ left: 143, top: 100, width: 555, height: 171, xDomain: [-10, 190], xTicks: [0, 50, 100, 150],
	  growth: growth1, iso: iso1, arrows: arrows1, arrowTips: [83, 83, 83], heavy: false },
	{ left: 802, top: 98, width: 558, height: 171, xDomain: [4380, 4580], xTicks: [4400, 4450, 4500, 4550],
	  growth: growth2, iso: iso2, arrows: arrows2, arrowTips: [97, 83, 83, 83], heavy: false },
	{ left: 147, top: 326, width: 558, height: 171, xDomain: [4720, 4920], xTicks: [4750, 4800, 4850, 4900],
	  growth: growth3, iso: iso3, arrows: [], arrowTips: [], heavy: false },
	{ left: 807, top: 328, width: 558, height: 171, xDomain: [5270, 5470], xTicks: [5300, 5350, 5400, 5450],
	  growth: growth4, iso: iso4, arrows: [], arrowTips: [], heavy: false },
	{ left: 152, top: 557, width: 558, height: 172, xDomain: [5800, 6000], xTicks: [5800, 5850, 5900, 5950, 6000],
	  growth: growth5, iso: iso5, arrows: [], arrowTips: [], heavy: false },
	{ left: 157, top: 800, width: 1204, height: 171, xDomain: [7330, 7800], xTicks: [7350, 7400, 7450, 7500, 7550, 7600, 7650, 7700, 7750, 7800],
	  growth: growth6, iso: iso6, arrows: arrows6, arrowTips: [848, 848, 848, 848, 833, 848, 833, 848, 848, 848], heavy: true }
];

let lightStyle = { frame: "#3c3c3c", frameW: 1, tickW: 1, font: 16,
	leftMajor: 5, leftMinor: 3, botMajor: 5, botMinor: 3, topMajor: 5, topMinor: 3, right: 5,
	leftPad: 3, botPad: 6, rightPad: 6 };
let heavyStyle = { frame: "#000", frameW: 2.5, tickW: 2.5, font: 18,
	leftMajor: 14, leftMinor: 14, botMajor: 10, botMinor: 7, topMajor: 14, topMinor: 7, right: 5,
	leftPad: 10, botPad: 22, rightPad: 20 };

let arrowColor = "#4a7ebb",
	arrowLen = 73;

const svg = d3.select("#chart");

svg.append("rect").attr("width", 1474).attr("height", 1075).attr("fill", "#eeebe0");

panels.forEach(drawPanel);

function styleAxis(sel, st, color) {
	sel.select(".domain").remove();
	sel.selectAll(".tick line").attr("stroke", st.frame).attr("stroke-width", st.tickW);
	sel.selectAll(".tick text")
		.attr("fill", color)
		.style("font-size", st.font + "px")
		.style("font-family", '"Liberation Sans", Arial, sans-serif');
}

function drawPanel(p) {
	let st = p.heavy ? heavyStyle : lightStyle;

	let g = svg.append("g")
		.attr("transform", "translate(" + p.left + "," + p.top + ")");

	let x = d3.scaleLinear().domain(p.xDomain).range([0, p.width]),
		yG = d3.scaleLinear().domain([0, 1.6]).range([p.height, 0]),
		yO = d3.scaleLinear().domain([-7, 1]).range([p.height, 0]);

	// minor ticks every 25 yr
	let minorX = d3.range(Math.ceil(p.xDomain[0] / 25) * 25, p.xDomain[1] + 0.01, 25)
		.filter(v => p.xTicks.indexOf(v) < 0);
	let minorG = d3.range(0.1, 1.6, 0.2);
	let minorO = [-1, -3, -5];

	// left axis
	g.append("g").call(d3.axisLeft(yG).tickValues(minorG).tickSize(st.leftMinor).tickFormat(""))
		.call(s => styleAxis(s, st, "#000"));
	g.append("g").call(d3.axisLeft(yG).tickValues(growthTicks).tickSize(st.leftMajor).tickPadding(st.leftPad)
		.tickFormat(d3.format(".1f")))
		.call(s => styleAxis(s, st, "#000"));

	// right axis
	g.append("g").attr("transform", "translate(" + p.width + ",0)")
		.call(d3.axisRight(yO).tickValues(minorO).tickSize(st.right).tickFormat(""))
		.call(s => styleAxis(s, st, "#f00"));
	g.append("g").attr("transform", "translate(" + p.width + ",0)")
		.call(d3.axisRight(yO).tickValues(isoTicks).tickSize(st.right).tickPadding(st.rightPad)
			.tickFormat(d3.format(".1f")))
		.call(s => styleAxis(s, st, "#f00"));
	g.selectAll(".tick text").each(function () {
		let t = d3.select(this);
		t.text(t.text().replace("\u2212", "-"));
	});

	// bottom axis (outward)
	g.append("g").attr("transform", "translate(0," + p.height + ")")
		.call(d3.axisBottom(x).tickValues(minorX).tickSize(st.botMinor).tickFormat(""))
		.call(s => styleAxis(s, st, "#000"));
	g.append("g").attr("transform", "translate(0," + p.height + ")")
		.call(d3.axisBottom(x).tickValues(p.xTicks).tickSize(st.botMajor).tickPadding(st.botPad)
			.tickFormat(d3.format("d")))
		.call(s => styleAxis(s, st, "#000"));

	// top axis (inward)
	g.append("g")
		.call(d3.axisTop(x).tickValues(minorX).tickSize(-st.topMinor).tickFormat(""))
		.call(s => styleAxis(s, st, "#000"));
	g.append("g")
		.call(d3.axisTop(x).tickValues(p.xTicks).tickSize(-st.topMajor).tickFormat(""))
		.call(s => styleAxis(s, st, "#000"));

	// frame
	g.append("rect")
		.attr("width", p.width)
		.attr("height", p.height)
		.attr("fill", "none")
		.attr("stroke", st.frame)
		.attr("stroke-width", st.frameW);

	// growth series (black)
	let lineG = d3.line().x(d => x(d[0])).y(d => yG(d[1]));
	g.append("path")
		.datum(p.growth)
		.attr("d", lineG)
		.attr("fill", "none")
		.attr("stroke", "#000")
		.attr("stroke-width", 1);
	g.selectAll(".gpt")
		.data(p.growth)
		.enter()
		.append("rect")
			.attr("x", d => x(d[0]) - 1.2)
			.attr("y", d => yG(d[1]) - 1.2)
			.attr("width", 2.4)
			.attr("height", 2.4)
			.attr("fill", "#000");

	// d18O series (red)
	let lineO = d3.line().x(d => x(d[0])).y(d => yO(d[1]));
	g.append("path")
		.datum(p.iso)
		.attr("d", lineO)
		.attr("fill", "none")
		.attr("stroke", "#ff0000")
		.attr("stroke-width", 3.5)
		.attr("stroke-linejoin", "round");
	g.selectAll(".opt")
		.data(p.iso)
		.enter()
		.append("circle")
			.attr("cx", d => x(d[0]))
			.attr("cy", d => yO(d[1]))
			.attr("r", 2.2)
			.attr("fill", "#ff0000");

	// arrows
	p.arrows.forEach(function (yr, i) {
		let ax = p.left + x(yr),
			tip = p.arrowTips[i];
		let a = svg.append("g")
			.attr("stroke", arrowColor)
			.attr("stroke-width", 2.2)
			.attr("fill", "none")
			.attr("stroke-linecap", "round");
		a.append("line").attr("x1", ax).attr("x2", ax).attr("y1", tip - arrowLen).attr("y2", tip);
		a.append("polyline")
			.attr("points", (ax - 10) + "," + (tip - 18) + " " + ax + "," + tip + " " + (ax + 10) + "," + (tip - 18));
	});
}

// axis titles
let ytitle = svg.append("text")
	.attr("transform", "translate(39,558) rotate(-90)")
	.attr("text-anchor", "middle")
	.style("font-size", "28px")
	.attr("fill", "#000");
ytitle.append("tspan").text("Growth Rate (mm yr");
ytitle.append("tspan").text("-1").attr("dy", -11).style("font-size", "16px");
ytitle.append("tspan").text(")").attr("dy", 11);

svg.append("text")
	.attr("x", 780)
	.attr("y", 1068)
	.attr("text-anchor", "middle")
	.style("font-size", "29px")
	.attr("fill", "#000")
	.text("Time (years BP)");

let otitle = svg.append("text")
	.attr("transform", "translate(1437,561) rotate(90)")
	.attr("text-anchor", "middle")
	.style("font-size", "27px")
	.attr("fill", "#ff0000");
otitle.append("tspan").text("\u03b4");
otitle.append("tspan").text("18").attr("dy", -11).style("font-size", "16px");
otitle.append("tspan").text("O").attr("dy", 11);

</script>
</body>
</html>
